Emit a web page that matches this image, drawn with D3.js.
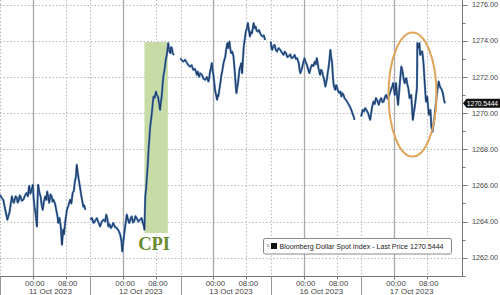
<!DOCTYPE html>
<html>
<head>
<meta charset="utf-8">
<script src="https://cdn.jsdelivr.net/npm/d3@7"></script>
<style>
  body { margin: 0; background: #fff; }
  svg { display: block; font-family: "Liberation Sans", Arial, sans-serif; }
</style>
</head>
<body>
<div id="chart"></div>
<script>
// sessions shown (each session starts 16:00 the day before, 22h long)
var days = ["11 Oct 2023", "12 Oct 2023", "13 Oct 2023", "16 Oct 2023", "17 Oct 2023"];
var timeLabels = ["00:00", "08:00"];
var timeHours = [8, 16];
var sessionHours = 22;

var yTicks = [1262, 1264, 1266, 1268, 1270, 1272, 1274, 1276];
var lastPrice = 1270.5444;
var seriesName = "Bloomberg Dollar Spot Index - Last Price";

// [hours into session, price]
var oct11 = [[0,1265.48],[0.4,1265.30],[0.8,1265.21],[1.2,1264.75],[1.8,1264.10],[2.1,1264.35],[2.3,1264.49],[2.6,1264.95],
  [2.9,1265.39],[3.2,1265.10],[3.4,1265.04],[3.8,1265.40],[4.1,1265.32],[4.3,1265.05],[4.5,1265.11],[4.8,1265.45],[5.0,1265.39],
  [5.3,1265.15],[5.7,1265.21],[6.1,1265.45],[6.5,1265.59],[6.8,1265.40],[7.1,1265.98],[7.4,1265.55],[7.6,1265.66],[8.0,1266.03],
  [8.2,1265.30],[8.4,1264.83],[8.7,1264.40],[9.0,1263.73],[9.15,1265.2],[9.3,1266.03],[9.6,1265.60],[9.9,1265.39],[10.1,1265.0],
  [10.4,1264.65],[10.7,1265.1],[11.0,1265.39],[11.3,1265.2],[11.5,1265.66],[11.8,1265.3],[12.0,1265.04],[12.3,1265.5],[12.6,1265.39],
  [12.8,1265.1],[13.0,1265.21],[13.4,1265.0],[13.7,1264.65],[14.0,1264.3],[14.2,1263.93],[14.5,1264.2],[14.8,1263.73],[15.1,1262.72],
  [15.4,1263.55],[15.6,1263.3],[15.9,1264.00],[16.1,1264.3],[16.3,1264.65],[16.7,1264.9],[17.1,1265.21],[17.4,1265.0],[17.7,1265.58],
  [18.0,1265.7],[18.2,1266.13],[18.5,1266.5],[18.7,1267.14],[18.95,1266.7],[19.2,1266.31],[19.5,1265.9],[19.7,1265.58],[20.0,1265.2],
  [20.3,1264.83],[20.5,1264.9],[20.8,1264.65]];
var oct12 = [[0,1264.10],[0.4,1264.2],[0.8,1263.92],[1.2,1264.05],[1.6,1264.19],[2.0,1263.95],[2.4,1263.73],[2.8,1264.0],
  [3.2,1264.10],[3.6,1264.0],[3.9,1264.38],[4.2,1264.1],[4.4,1263.73],[4.7,1263.85],[5.0,1263.64],[5.3,1263.75],[5.6,1263.92],
  [6.0,1263.7],[6.5,1263.64],[6.9,1263.5],[7.3,1263.27],[7.6,1262.9],[7.8,1262.35],[8.05,1262.9],[8.3,1263.36],[8.6,1263.9],
  [8.9,1264.38],[9.2,1264.1],[9.5,1263.92],[9.8,1264.15],[10.1,1264.28],[10.4,1263.95],[10.7,1264.00],[11.0,1264.3],[11.3,1264.19],
  [11.7,1264.0],[12.1,1264.10],[12.5,1264.2],[12.8,1263.92],[13.0,1263.8],[13.2,1263.55],[13.4,1265.39],[13.6,1265.8],[13.8,1266.49],
  [14.0,1267.1],[14.2,1267.97],[14.4,1268.6],[14.6,1269.26],[14.8,1269.6],[15.0,1270.00],[15.2,1270.5],[15.4,1270.92],[15.7,1270.85],
  [16.0,1271.19],[16.2,1271.0],[16.5,1270.92],[16.8,1270.5],[17.0,1270.18],[17.2,1270.6],[17.4,1270.92],[17.6,1271.5],[17.8,1272.02],
  [18.1,1272.4],[18.4,1272.95],[18.7,1273.3],[19.0,1273.87],[19.2,1273.5],[19.5,1273.32],[19.7,1273.65],[19.9,1273.60],[20.1,1273.3],
  [20.4,1273.22]];
var oct13 = [[0,1273.04],[0.35,1272.9],[0.7,1272.85],[1.1,1272.95],[1.5,1272.80],[1.9,1272.65],[2.3,1272.58],[2.7,1272.65],
  [3.1,1272.39],[3.5,1272.45],[4.0,1272.12],[4.2,1272.3],[4.5,1272.02],[4.8,1272.2],[5.2,1272.12],[5.6,1271.9],[6.0,1271.84],
  [6.4,1272.0],[6.8,1271.75],[7.0,1272.0],[7.2,1272.30],[7.4,1272.5],[7.6,1272.77],[7.8,1272.4],[8.0,1272.12],[8.2,1271.7],
  [8.4,1271.29],[8.65,1271.0],[8.9,1270.74],[9.05,1271.0],[9.2,1270.92],[9.45,1271.3],[9.7,1271.66],[9.95,1272.1],[10.2,1272.39],
  [10.5,1272.8],[10.9,1273.13],[11.1,1273.5],[11.4,1273.87],[11.6,1273.6],[11.9,1273.96],[12.1,1273.6],[12.3,1273.32],[12.6,1273.4],
  [12.9,1273.13],[13.1,1272.6],[13.3,1272.02],[13.45,1271.5],[13.6,1271.11],[13.8,1271.4],[14.0,1271.66],[14.2,1272.1],[14.4,1272.49],
  [14.6,1272.6],[14.8,1272.77],[15.0,1272.21],[15.2,1273.0],[15.4,1273.68],[15.65,1274.1],[15.9,1274.51],[16.15,1274.7],[16.4,1274.98],
  [16.65,1274.6],[16.9,1274.24],[17.15,1274.5],[17.4,1274.42],[17.6,1274.7],[17.8,1274.98],[18.05,1274.7],[18.3,1274.79],[18.55,1274.55],
  [18.8,1274.51],[19.1,1274.6],[19.4,1274.42],[19.7,1274.3],[20.0,1274.24],[20.3,1274.3],[20.6,1274.05]];
var oct16 = [[0,1273.96],[0.15,1273.6],[0.3,1273.50],[0.6,1273.7],[0.9,1273.78],[1.2,1273.5],[1.5,1273.41],[1.9,1273.6],
  [2.3,1273.50],[2.7,1273.35],[3.1,1273.22],[3.4,1273.4],[3.7,1273.32],[4.0,1273.1],[4.3,1273.13],[4.7,1273.25],[5.1,1273.04],
  [5.5,1273.1],[5.8,1273.22],[6.1,1273.0],[6.4,1273.04],[6.6,1272.9],[6.8,1272.77],[7.0,1272.4],[7.2,1272.21],[7.4,1272.35],
  [7.6,1272.49],[7.9,1272.8],[8.2,1273.04],[8.5,1272.8],[8.8,1272.67],[9.1,1272.4],[9.4,1272.21],[9.7,1272.5],[10.0,1272.67],
  [10.35,1272.6],[10.7,1272.85],[10.95,1272.7],[11.2,1273.04],[11.4,1272.8],[11.6,1272.49],[11.8,1272.3],[12.0,1272.12],[12.25,1272.4],
  [12.5,1272.30],[12.7,1272.1],[12.9,1271.94],[13.1,1271.7],[13.3,1271.47],[13.5,1271.7],[13.7,1271.94],[13.9,1272.3],[14.1,1272.58],
  [14.3,1273.0],[14.5,1273.50],[14.7,1273.1],[14.9,1272.85],[15.1,1272.1],[15.3,1271.57],[15.5,1271.4],[15.7,1271.29],[15.9,1271.55],
  [16.1,1271.47],[16.4,1271.2],[16.7,1271.11],[16.95,1271.2],[17.2,1270.92],[17.45,1271.1],[17.7,1271.01],[18.0,1270.8],[18.3,1270.74],
  [18.65,1270.6],[19.0,1270.46],[19.3,1270.35],[19.6,1270.18],[19.8,1270.05],[20.0,1269.91],[20.2,1269.8],[20.4,1269.63]];
var oct17 = [[0,1269.81],[0.2,1270.0],[0.4,1270.18],[0.7,1270.1],[1.0,1270.28],[1.35,1270.15],[1.7,1270.00],[1.95,1269.8],
  [2.2,1269.63],[2.45,1270.0],[2.7,1270.37],[3.0,1270.64],[3.3,1270.5],[3.6,1270.83],[3.95,1270.7],[4.3,1270.46],[4.6,1270.7],
  [4.9,1270.83],[5.2,1270.6],[5.5,1270.64],[5.8,1270.9],[6.1,1271.01],[6.4,1270.8],[6.7,1270.92],[7.0,1271.1],[7.4,1271.38],
  [7.6,1271.5],[7.8,1271.66],[8.0,1271.3],[8.2,1271.01],[8.35,1271.3],[8.5,1271.66],[8.75,1271.0],[9.0,1270.46],[9.2,1271.0],
  [9.4,1271.57],[9.6,1272.1],[9.8,1272.58],[10.0,1272.4],[10.1,1272.30],[10.35,1271.9],[10.6,1271.66],[10.8,1271.85],[11.0,1271.94],
  [11.25,1271.6],[11.5,1271.38],[11.65,1271.1],[11.8,1270.83],[12.0,1270.9],[12.2,1271.01],[12.4,1270.3],[12.6,1269.63],[12.9,1270.1],
  [13.2,1270.57],[13.4,1271.0],[13.6,1271.38],[13.7,1273.87],[14.0,1273.6],[14.2,1273.87],[14.4,1273.22],[14.6,1273.4],[14.9,1273.41],
  [15.05,1273.1],[15.2,1272.77],[15.35,1272.2],[15.5,1271.66],[15.65,1271.1],[15.8,1270.64],[16.1,1270.92],[16.3,1270.4],[16.5,1269.91],
  [16.7,1270.1],[16.9,1270.18],[17.1,1269.26],[17.25,1269.1],[17.4,1268.97],[17.65,1269.4],[17.9,1269.81],[18.1,1270.3],[18.3,1270.74],
  [18.6,1271.3],[18.9,1271.75],[19.15,1271.5],[19.4,1271.38],[19.65,1271.3],[19.9,1271.11],[20.15,1270.8],[20.4,1270.54]];
var sessions = [oct11, oct12, oct13, oct16, oct17];

// CPI release window on 12 Oct session (hours into session, price range)
var cpiHours = [13.2, 18.9];
var cpiRange = [1263.36, 1273.93];

var width = 500, height = 295;
var plotRight = 462.5, plotBottom = 276.5;

var x = d3.scaleLinear().domain([0, 112.7]).range([0, plotRight]);
var y = d3.scaleLinear().domain([1260.96, 1276.26]).range([plotBottom, 0]);

var svg = d3.select("#chart").append("svg")
    .attr("width", width)
    .attr("height", height);

// horizontal grid
svg.append("g").selectAll("line")
    .data(yTicks)
    .enter().append("line")
    .attr("x1", 0).attr("x2", plotRight)
    .attr("y1", function(d) { return Math.round(y(d)) + 0.5; })
    .attr("y2", function(d) { return Math.round(y(d)) + 0.5; })
    .attr("stroke", "#b8b8b8")
    .attr("stroke-dasharray", "1.5,2");

// vertical grid: session separators, 00:00 (solid), 08:00 (dotted)
days.forEach(function(day, i) {
    var s = i * sessionHours;
    var xs = Math.round(x(s)) + 0.5;
    svg.append("line")
        .attr("x1", xs).attr("x2", xs).attr("y1", 0).attr("y2", plotBottom)
        .attr("stroke", "#bbb").attr("stroke-dasharray", "1.5,2");
    svg.append("line")
        .attr("x1", xs).attr("x2", xs).attr("y1", plotBottom).attr("y2", height)
        .attr("stroke", "#999");
    timeHours.forEach(function(h, j) {
        var xt = Math.round(x(s + h)) + 0.5;
        svg.append("line")
            .attr("x1", xt).attr("x2", xt).attr("y1", 0).attr("y2", plotBottom)
            .attr("stroke", j == 0 ? "#a8a8a8" : "#bbb")
            .attr("stroke-width", j == 0 ? 1.3 : 1)
            .attr("stroke-dasharray", j == 0 ? null : "1.5,2");
        svg.append("line")
            .attr("x1", xt).attr("x2", xt).attr("y1", plotBottom).attr("y2", plotBottom + 3)
            .attr("stroke", "#777");
        svg.append("text")
            .attr("x", x(s + h) + 2)
            .attr("y", 285.5)
            .attr("text-anchor", "middle")
            .attr("font-size", 7.8)
            .attr("fill", "#444")
            .text(timeLabels[j]);
    });
    svg.append("text")
        .attr("x", x(s + 12.3))
        .attr("y", 294)
        .attr("text-anchor", "middle")
        .attr("font-size", 8)
        .attr("fill", "#444")
        .text(day);
});

// CPI highlight
svg.append("rect")
    .attr("x", x(sessionHours + cpiHours[0]))
    .attr("y", y(cpiRange[1]))
    .attr("width", x(sessionHours + cpiHours[1]) - x(sessionHours + cpiHours[0]))
    .attr("height", y(cpiRange[0]) - y(cpiRange[1]))
    .attr("fill", "#c6dba6");

// axes lines
svg.append("line")
    .attr("x1", 0).attr("x2", plotRight).attr("y1", plotBottom).attr("y2", plotBottom)
    .attr("stroke", "#777");
svg.append("line")
    .attr("x1", plotRight).attr("x2", plotRight).attr("y1", 0).attr("y2", plotBottom)
    .attr("stroke", "#777");

// right axis ticks + labels
var minor = d3.range(1261, 1277, 1);
svg.append("g").selectAll("line")
    .data(minor)
    .enter().append("line")
    .attr("x1", plotRight).attr("x2", function(d) { return plotRight + (d % 2 == 0 ? 5 : 3); })
    .attr("y1", function(d) { return Math.round(y(d)) + 0.5; })
    .attr("y2", function(d) { return Math.round(y(d)) + 0.5; })
    .attr("stroke", "#777");
svg.append("g").selectAll("text")
    .data(yTicks)
    .enter().append("text")
    .attr("x", 472)
    .attr("y", function(d) { return y(d) + 2.6; })
    .attr("font-size", 7.2)
    .attr("fill", "#444")
    .text(function(d) { return d.toFixed(2); });

// price line, drawn per session
var line = d3.line()
    .x(function(d) { return x(d[0]); })
    .y(function(d) { return y(d[1]); });

sessions.forEach(function(sess, i) {
    var pts = sess.map(function(d) { return [i * sessionHours + d[0], d[1]]; });
    svg.append("path")
        .attr("d", line(pts))
        .attr("fill", "none")
        .attr("stroke", "#4f80ba")
        .attr("stroke-width", 2.2)
        .attr("stroke-linejoin", "round");
    svg.append("path")
        .attr("d", line(pts))
        .attr("fill", "none")
        .attr("stroke", "#1a2d50")
        .attr("stroke-width", 0.9)
        .attr("stroke-linejoin", "round");
});

// CPI label
svg.append("text")
    .attr("x", x(sessionHours + (cpiHours[0] + cpiHours[1]) / 2) - 2)
    .attr("y", 250)
    .attr("text-anchor", "middle")
    .attr("font-family", "Liberation Serif, serif")
    .attr("font-weight", "bold")
    .attr("font-size", 18.5)
    .attr("fill", "#6a8a2e")
    .text("CPI");

// orange circle around the 17 Oct swings
svg.append("ellipse")
    .attr("cx", 412.5).attr("cy", 94.5)
    .attr("rx", 24).attr("ry", 62)
    .attr("fill", "none")
    .attr("stroke", "#dea45a")
    .attr("stroke-width", 2);

// last price tag
var ly = y(lastPrice);
svg.append("path")
    .attr("d", "M" + (plotRight + 0.5) + "," + ly + " L" + (plotRight + 4) + "," + (ly - 4.5) +
        " L500," + (ly - 4.5) + " L500," + (ly + 4.5) + " L" + (plotRight + 4) + "," + (ly + 4.5) + " Z")
    .attr("fill", "#111");
svg.append("text")
    .attr("x", plotRight + 4.3)
    .attr("y", ly + 2.5)
    .attr("font-size", 6.8)
    .attr("letter-spacing", -0.1)
    .attr("fill", "#fff")
    .text(lastPrice.toFixed(4));

// legend
var lg = svg.append("g").attr("transform", "translate(263.5,238.5)");
lg.append("rect")
    .attr("width", 188).attr("height", 15.5)
    .attr("rx", 1.5)
    .attr("fill", "#fff")
    .attr("stroke", "#888");
lg.append("rect").attr("x", 3).attr("y", 5.5).attr("width", 3).attr("height", 3).attr("fill", "#ccc");
lg.append("rect").attr("x", 7.5).attr("y", 4.5).attr("width", 6).attr("height", 6).attr("fill", "#111");
lg.append("text")
    .attr("x", 16)
    .attr("y", 10.5)
    .attr("font-size", 7.1)
    .attr("fill", "#222")
    .text(seriesName + " " + lastPrice.toFixed(4));
</script>
</body>
</html>
